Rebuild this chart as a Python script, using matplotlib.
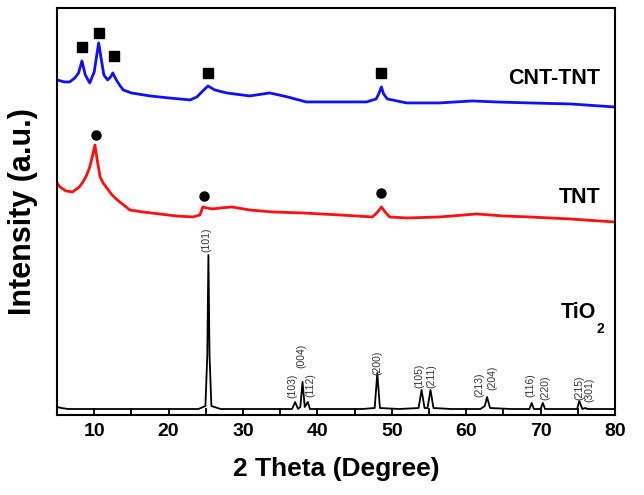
import matplotlib
matplotlib.use('Agg')
import matplotlib.pyplot as plt
from matplotlib.ticker import MultipleLocator

plt.rcParams['font.family'] = ['Liberation Sans', 'DejaVu Sans']

# CNT-TNT trace (2 theta, intensity a.u.)
cnt_x = [5.0, 6.0, 6.7, 7.4, 7.9, 8.35, 8.8, 9.4, 10.0, 10.35, 10.6, 10.9, 11.3, 11.8, 12.2, 12.5,
         12.9, 13.4, 13.9, 15.0, 17.5, 20.0, 22.9, 23.8, 24.6, 25.3, 26.2, 27.8, 30.9, 33.6,
         36.0, 38.5, 42.0, 46.6, 47.9, 48.3, 48.6, 48.9, 49.4, 52.0, 56.4, 60.8, 64.0, 68.5,
         74.0, 79.9]
cnt_y = [335, 333, 333, 337, 342, 354, 340, 332, 343, 360, 372, 358, 340, 335, 338, 342,
         336, 330, 325, 322, 319, 317, 315, 318, 324, 329, 325, 322, 319, 322,
         318, 313, 313, 313, 316, 322, 328, 321, 316, 312, 312, 314, 313, 312,
         311, 308]

# TNT trace
tnt_x = [5.0, 5.4, 6.2, 7.1, 8.0, 8.5, 9.0, 9.4, 9.8, 10.1, 10.4, 10.8, 11.2, 11.7, 12.4, 13.1,
         14.8, 16.5, 18.8, 21.0, 23.3, 24.2, 24.6, 25.1, 25.9, 27.0, 28.5, 30.9, 34.0, 38.0,
         43.0, 47.4, 48.1, 48.6, 49.1, 49.7, 52.0, 56.4, 61.4, 65.0, 68.5, 74.0, 79.9]
tnt_y = [232, 228, 224, 223, 228, 233, 240, 248, 260, 270, 255, 238, 232, 227, 220, 215,
         205, 203, 201, 199, 198, 200, 208, 207, 206, 207, 208, 205, 203, 202,
         200, 198, 203, 208, 203, 198, 197, 198, 201, 199, 198, 196, 193]

# TiO2 trace
tio2_x = [5.0, 5.6, 6.5, 10, 16, 20, 24, 24.95, 25.2, 25.35, 25.5, 25.75, 27, 32, 36.6, 37.0,
          37.4, 37.7, 38.0, 38.3, 38.7, 39.0, 42, 46, 47.7, 48.05, 48.4, 51, 53.6, 54.0, 54.4,
          54.8, 55.2, 55.6, 58, 61.9, 62.3, 62.5, 62.8, 63.2, 66, 68.5, 68.8, 69.1, 70.0,
          70.3, 70.6, 73, 74.9, 75.2, 75.6, 76.0, 76.3, 80]
tio2_y = [8, 7, 6, 6, 6, 6, 6, 9, 60, 160, 60, 9, 6, 6, 6, 13,
          6, 8, 33, 8, 13, 6, 6, 6, 7, 42, 7, 6, 7, 25, 7,
          7, 25, 7, 6, 6, 8, 9, 18, 7, 6, 6, 12, 6, 6,
          12, 6, 6, 6, 14, 6, 7, 6, 6]

# phase markers
sq_x = [8.35, 10.6, 12.6, 25.3, 48.6]
sq_y = [368, 382, 359, 342, 342]
dot_x = [10.2, 24.7, 48.5]
dot_y = [280, 219, 222]

# TiO2 reflections (label x, label bottom)
hkl = ['(101)', '(103)', '(004)', '(112)', '(200)', '(105)', '(211)',
       '(213)', '(204)', '(116)', '(220)', '(215)', '(301)']
hkl_x = [25.1, 36.7, 37.9, 39.1, 48.1, 53.7, 55.3, 61.8, 63.5, 68.6, 70.6, 75.2, 76.5]
hkl_y = [163, 17, 47, 18, 40, 27, 27, 18, 25, 18, 15, 15, 13]

fig = plt.figure(figsize=(6.44, 4.95), dpi=100)
ax = fig.add_axes([0.0885, 0.1616, 0.8665, 0.8224])

ax.plot(tio2_x, tio2_y, color='black', lw=1.3)
ax.plot(tnt_x, tnt_y, color='#ff1010', lw=2.0)
ax.plot(cnt_x, cnt_y, color='#1010ff', lw=2.0)

ax.plot(sq_x, sq_y, 's', color='black', ms=7.5, ls='none')
ax.plot(dot_x, dot_y, 'o', color='black', ms=6.5, ls='none')

for lab, x, y in zip(hkl, hkl_x, hkl_y):
    ax.text(x, y, lab, rotation=90, ha='center', va='bottom', fontsize=7.5, color='#333333')

ax.text(78.0, 336, 'CNT-TNT', ha='right', va='center', fontsize=15.5, fontweight='bold')
ax.text(78.1, 217, 'TNT', ha='right', va='center', fontsize=15.5, fontweight='bold')
ax.text(77.4, 102, 'TiO', ha='right', va='center', fontsize=15.5, fontweight='bold')
ax.text(77.5, 86, '2', ha='left', va='center', fontsize=10, fontweight='bold')

ax.set_xlim(5, 80)
ax.set_ylim(0, 407)
ax.xaxis.set_major_locator(MultipleLocator(10))
ax.xaxis.set_minor_locator(MultipleLocator(5))
ax.tick_params(axis='x', which='both', direction='in', length=5, width=1.3,
               top=False, labelsize=14, pad=6)
ax.set_yticks([])
for lab in ax.get_xticklabels():
    lab.set_fontweight('bold')
for s in ax.spines.values():
    s.set_linewidth(1.5)

ax.set_xlabel('2 Theta (Degree)', fontsize=19, fontweight='bold', labelpad=12)
ax.set_ylabel('Intensity (a.u.)', fontsize=22, fontweight='bold', labelpad=14)

fig.savefig('out.png', dpi=100)
